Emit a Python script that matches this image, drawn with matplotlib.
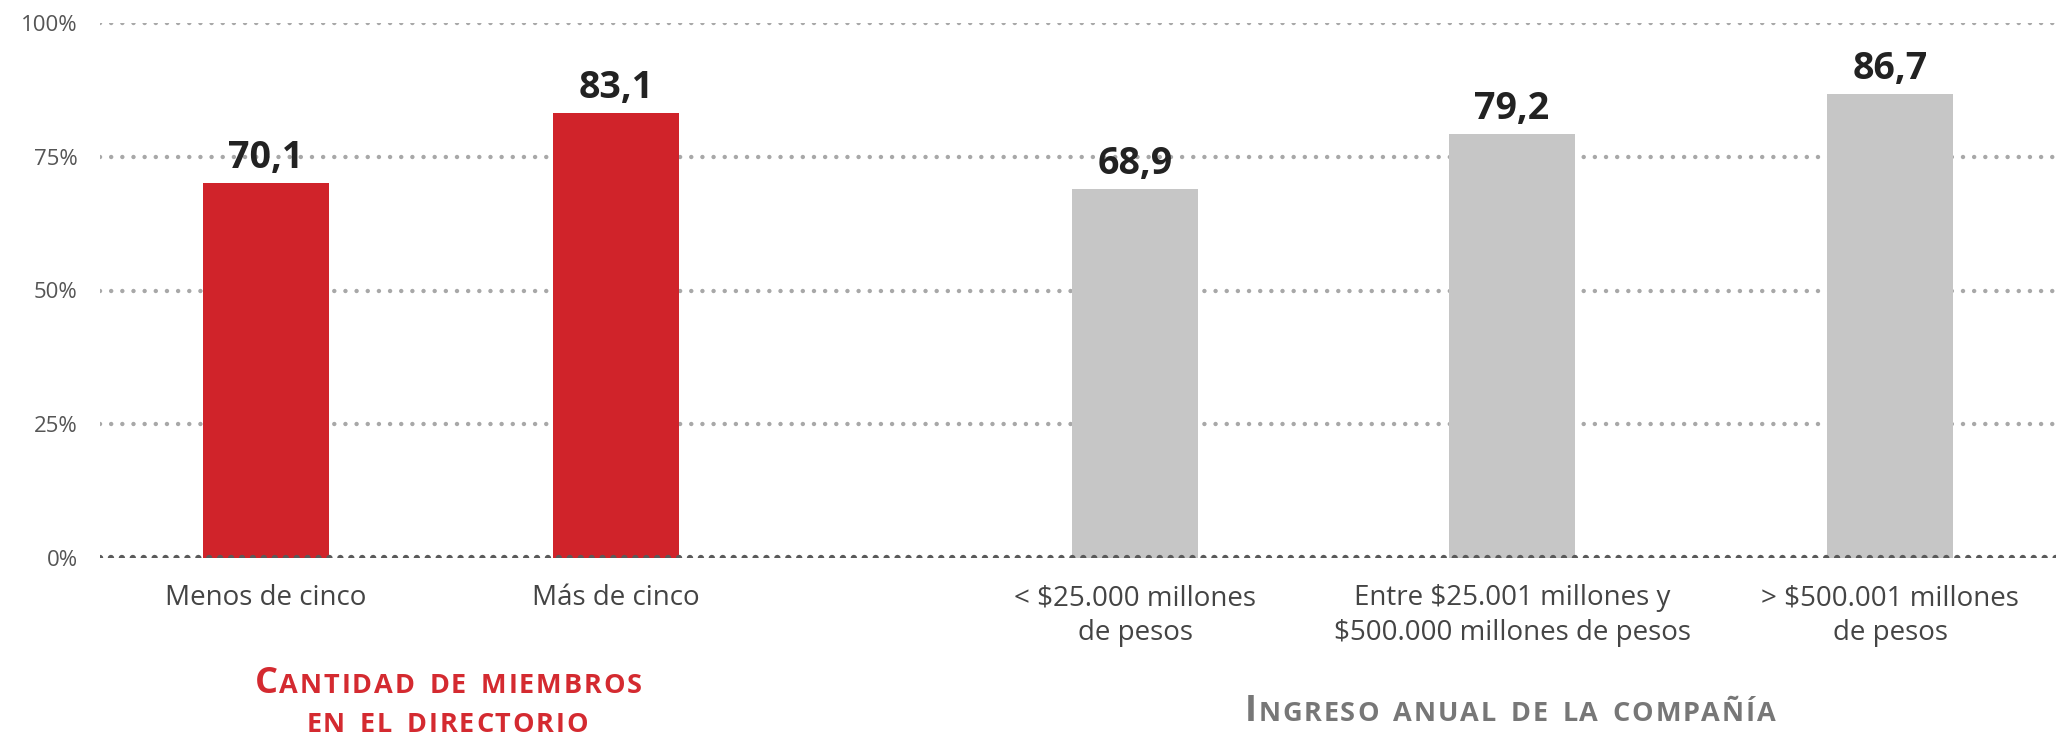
import matplotlib
matplotlib.use('Agg')
import matplotlib.pyplot as plt
from matplotlib.offsetbox import TextArea, DrawingArea, HPacker, AnnotationBbox

# data
categories = ['Menos de cinco', 'Más de cinco',
              '< $25.000 millones\nde pesos',
              'Entre $25.001 millones y\n$500.000 millones de pesos',
              '> $500.001 millones\nde pesos']
values = [70.1, 83.1, 68.9, 79.2, 86.7]
groups = ['miembros', 'miembros', 'ingreso', 'ingreso', 'ingreso']
y_ticks = [0, 25, 50, 75, 100]
y_tick_labels = ['0%', '25%', '50%', '75%', '100%']
group_titles = {'miembros': ['Cantidad de miembros', 'en el directorio'],
                'ingreso': ['Ingreso anual de la compañía']}

RED = '#D0232A'
GREY = '#C6C6C6'
FONT = 'Open Sans'

# bar slots (one unit = distance between the first two bars)
positions = [0, 1, 2.484, 3.56, 4.64]
bar_w = 0.36

fig = plt.figure(figsize=(20.56, 7.38), dpi=100)
ax = fig.add_axes([100 / 2056, 180 / 738, 1 - 100 / 2056, (558 - 23) / 738])

colors = [RED if g == 'miembros' else GREY for g in groups]
ax.bar(positions, values, width=bar_w, color=colors, zorder=2)

# dotted grid
for t in y_ticks[1:]:
    ax.axhline(t, color='#A8A8A8', lw=3.2, linestyle=(0, (0.01, 2.5)),
               dash_capstyle='round', zorder=1)
ax.axhline(0, color='#5A5A5A', lw=4.6, linestyle=(0, (0.01, 1.7)),
           dash_capstyle='round', zorder=3)

# value labels
for x, v in zip(positions, values):
    ax.annotate(f'{v:.1f}'.replace('.', ','), (x, v), xytext=(0, 11),
                textcoords='offset points', ha='center', va='baseline',
                fontsize=27, fontweight='bold', color='#222222', family=FONT)

ax.set_xlim(-0.474, 5.114)
ax.set_ylim(0, 100)
ax.set_xticks(positions)
ax.set_xticklabels(categories, fontsize=20, color='#444444', family=FONT,
                   linespacing=1.3)
ax.set_yticks(y_ticks)
ax.set_yticklabels(y_tick_labels, fontsize=16, color='#555555', family=FONT)
ax.tick_params(axis='x', length=0, pad=19)
ax.tick_params(axis='y', length=0, pad=16)
for s in ax.spines.values():
    s.set_visible(False)


def small_caps(line, x, y, color, big=26, small=19.5, space=8, sep=1.3):
    # fake small caps: capitals big, lower case letters as small capitals
    kids = []
    for i, word in enumerate(line.split(' ')):
        if i:
            kids.append(DrawingArea(space, 1))
        for ch in word:
            size = big if ch.isupper() else small
            kids.append(TextArea(ch.upper(), textprops=dict(
                fontsize=size, color=color, family=FONT, fontweight='bold')))
    box = HPacker(children=kids, align='baseline', pad=0, sep=sep)
    ab = AnnotationBbox(box, (x, y), xycoords='figure pixels', frameon=False,
                        box_alignment=(0.5, 0.5), pad=0)
    fig.add_artist(ab)


small_caps(group_titles['miembros'][0], 448, 54, '#D42A30')
small_caps(group_titles['miembros'][1], 447, 13, '#D42A30')
small_caps(group_titles['ingreso'][0], 1510, 26, '#777777')

fig.savefig('out.png', dpi=100)
